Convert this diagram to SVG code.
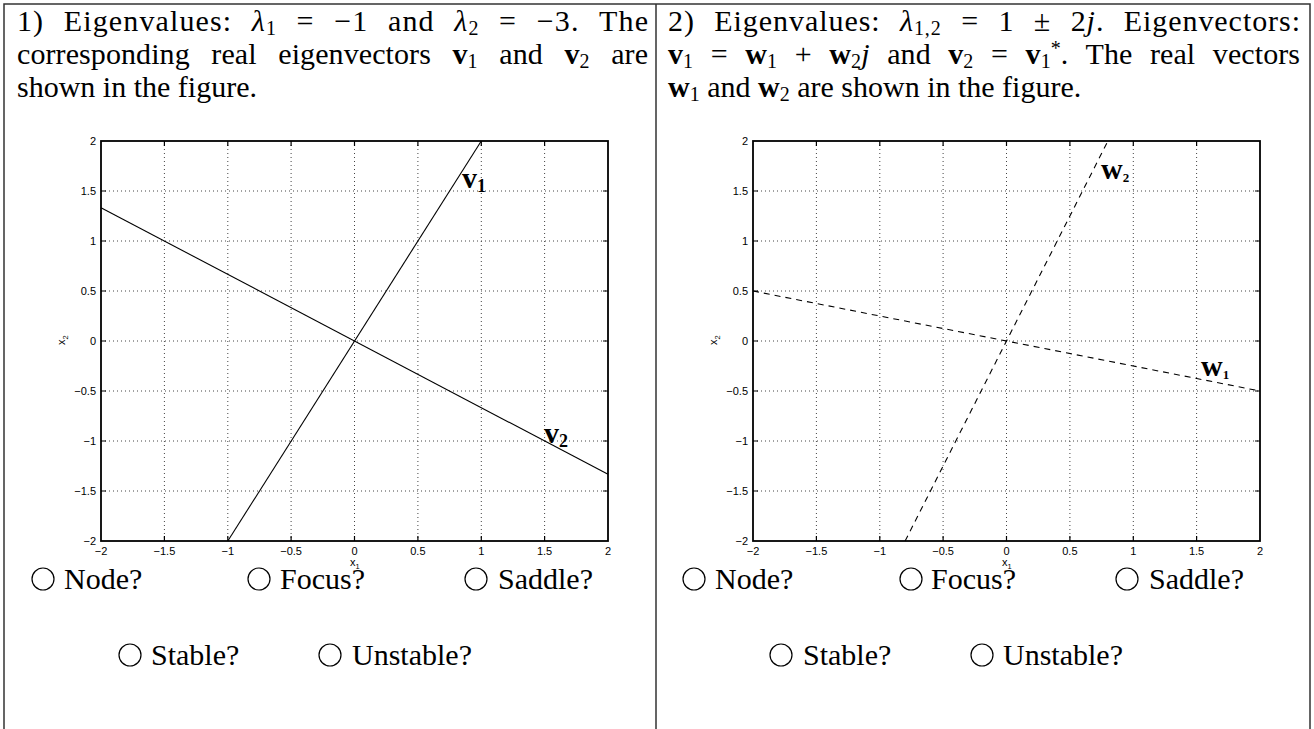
<svg xmlns="http://www.w3.org/2000/svg" width="1314" height="729" viewBox="0 0 1314 729">
<style>
.t{font-family:"Liberation Serif",serif;font-size:30px;fill:#000}
.o{font-family:"Liberation Serif",serif;font-size:30px;fill:#000}
.b{font-weight:bold}
.i{font-style:italic}
.tk{font-family:"Liberation Sans",Arial,sans-serif;font-size:11px;fill:#000}
.grid{stroke:#444;stroke-width:1;stroke-dasharray:1 3;fill:none}
.ax{stroke:#000;stroke-width:1.8;fill:none}
.tick{stroke:#000;stroke-width:1.2}
.ln{stroke:#000;stroke-width:1.1;fill:none}
.dash{stroke:#000;stroke-width:1.1;fill:none;stroke-dasharray:6 5}
.opt{fill:none;stroke:#000;stroke-width:1.2}
.border{stroke:#333;stroke-width:1.5;fill:none}
</style>
<defs>
<g id="gridplot">
<g class="grid">
<path d="M164.4 141V541M227.8 141V541M291.1 141V541M354.5 141V541M417.9 141V541M481.3 141V541M544.6 141V541"/>
<path d="M101 191H608M101 241H608M101 291H608M101 341H608M101 391H608M101 441H608M101 491H608"/>
</g>
<g class="tick">
<path d="M164.4 541v-5M227.8 541v-5M291.1 541v-5M354.5 541v-5M417.9 541v-5M481.3 541v-5M544.6 541v-5"/>
<path d="M164.4 141v5M227.8 141v5M291.1 141v5M354.5 141v5M417.9 141v5M481.3 141v5M544.6 141v5"/>
<path d="M101 191h5M101 241h5M101 291h5M101 341h5M101 391h5M101 441h5M101 491h5"/>
<path d="M608 191h-5M608 241h-5M608 291h-5M608 341h-5M608 391h-5M608 441h-5M608 491h-5"/>
</g>
<rect class="ax" x="101" y="141" width="507" height="400"/>
<g class="tk" text-anchor="end">
<text x="96" y="145">2</text>
<text x="96" y="195">1.5</text>
<text x="96" y="245">1</text>
<text x="96" y="295">0.5</text>
<text x="96" y="345">0</text>
<text x="96" y="395">−0.5</text>
<text x="96" y="445">−1</text>
<text x="96" y="495">−1.5</text>
<text x="96" y="545">−2</text>
</g>
<g class="tk" text-anchor="middle">
<text x="101" y="555">−2</text>
<text x="164.4" y="555">−1.5</text>
<text x="227.8" y="555">−1</text>
<text x="291.1" y="555">−0.5</text>
<text x="354.5" y="555">0</text>
<text x="417.9" y="555">0.5</text>
<text x="481.3" y="555">1</text>
<text x="544.6" y="555">1.5</text>
<text x="608" y="555">2</text>
</g>
<text class="tk" x="350" y="566">x<tspan font-size="7.5" dy="2.5">1</tspan></text>
<text class="tk" transform="translate(65 345) rotate(-90)">x<tspan font-size="7.5" dy="2.5">2</tspan></text>
</g>
</defs>

<g id="table">
<path class="border" d="M4 729V4H1310V729M656 4V729"/>
</g>

<g id="panel1">
<text class="t" x="17" y="31" word-spacing="11" textLength="631" lengthAdjust="spacing">1) Eigenvalues:  <tspan class="i">λ</tspan><tspan font-size="20" dy="4">1</tspan><tspan dy="-4"> = −1 and </tspan><tspan class="i">λ</tspan><tspan font-size="20" dy="4">2</tspan><tspan dy="-4"> = −3.  The</tspan></text>
<text class="t" x="17" y="64" word-spacing="14" textLength="631" lengthAdjust="spacing">corresponding real eigenvectors <tspan class="b">v</tspan><tspan font-size="20" dy="4">1</tspan><tspan dy="-4"> and </tspan><tspan class="b">v</tspan><tspan font-size="20" dy="4">2</tspan><tspan dy="-4"> are</tspan></text>
<text class="t" x="17" y="97">shown in the figure.</text>
</g>

<g id="panel2">
<text class="t" x="668" y="31" word-spacing="11" textLength="632" lengthAdjust="spacing">2) Eigenvalues:  <tspan class="i">λ</tspan><tspan font-size="20" dy="4">1,2</tspan><tspan dy="-4"> = 1 ± 2</tspan><tspan class="i">j</tspan>.  Eigenvectors:</text>
<text class="t" x="668" y="64" word-spacing="10" textLength="632" lengthAdjust="spacing"><tspan class="b">v</tspan><tspan font-size="20" dy="4">1</tspan><tspan dy="-4"> = </tspan><tspan class="b">w</tspan><tspan font-size="20" dy="4">1</tspan><tspan dy="-4"> + </tspan><tspan class="b">w</tspan><tspan font-size="20" dy="4">2</tspan><tspan class="i" dy="-4">j</tspan> and <tspan class="b">v</tspan><tspan font-size="20" dy="4">2</tspan><tspan dy="-4"> = </tspan><tspan class="b">v</tspan><tspan font-size="20" dy="4">1</tspan><tspan font-size="20" dy="-13">*</tspan><tspan dy="9">.  The real vectors</tspan></text>
<text class="t" x="668" y="97"><tspan class="b">w</tspan><tspan font-size="20" dy="4">1</tspan><tspan dy="-4"> and </tspan><tspan class="b">w</tspan><tspan font-size="20" dy="4">2</tspan><tspan dy="-4"> are shown in the figure.</tspan></text>
</g>

<g id="plot1">
<use href="#gridplot"/>
</g>
<g id="plot2">
<use href="#gridplot" transform="translate(652 0)"/>
</g>

<g id="connectors">
<path class="ln" d="M227.8 541L481.3 141"/>
<path class="ln" d="M101 207.7L608 474.3"/>
<path class="dash" d="M905.1 541L1107.9 141"/>
<path class="dash" d="M753 291L1260 391"/>
</g>

<g id="curve-labels">
<text class="t b" x="462" y="188" font-size="26">v<tspan font-size="18" dy="4">1</tspan></text>
<text class="t b" x="544" y="443" font-size="26">v<tspan font-size="18" dy="4">2</tspan></text>
<text class="t b" x="1101" y="179" font-size="19">w<tspan font-size="13" dy="3">2</tspan></text>
<text class="t b" x="1201" y="376" font-size="19">w<tspan font-size="13" dy="3">1</tspan></text>
</g>

<g id="options1">
<circle class="opt" cx="43" cy="579" r="11"/><text class="o" x="64" y="589">Node?</text>
<circle class="opt" cx="259" cy="579" r="11"/><text class="o" x="280" y="589">Focus?</text>
<circle class="opt" cx="476" cy="579" r="11"/><text class="o" x="498" y="589">Saddle?</text>
<circle class="opt" cx="130" cy="655" r="11"/><text class="o" x="151" y="665">Stable?</text>
<circle class="opt" cx="330" cy="655" r="11"/><text class="o" x="352" y="665">Unstable?</text>
</g>
<g id="options2">
<circle class="opt" cx="694" cy="579" r="11"/><text class="o" x="715" y="589">Node?</text>
<circle class="opt" cx="911" cy="579" r="11"/><text class="o" x="931" y="589">Focus?</text>
<circle class="opt" cx="1127" cy="579" r="11"/><text class="o" x="1149" y="589">Saddle?</text>
<circle class="opt" cx="781" cy="655" r="11"/><text class="o" x="803" y="665">Stable?</text>
<circle class="opt" cx="982" cy="655" r="11"/><text class="o" x="1003" y="665">Unstable?</text>
</g>
</svg>
